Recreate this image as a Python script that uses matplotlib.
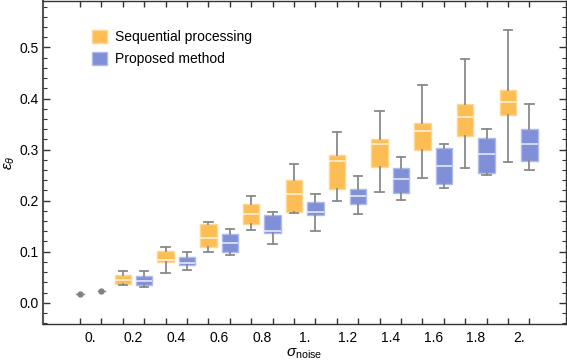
import matplotlib
matplotlib.use("Agg")
import matplotlib.pyplot as plt
from matplotlib.patches import Patch
import numpy as np

plt.rcParams['font.family'] = ['Liberation Sans', 'DejaVu Sans']
plt.rcParams['mathtext.fontset'] = 'custom'
plt.rcParams['mathtext.rm'] = 'Liberation Sans'
plt.rcParams['mathtext.it'] = 'Liberation Sans:italic'

noise = [0.0, 0.2, 0.4, 0.6, 0.8, 1.0, 1.2, 1.4, 1.6, 1.8, 2.0]
tick_labels = ["0.", "0.2", "0.4", "0.6", "0.8", "1.", "1.2", "1.4", "1.6", "1.8", "2."]

seq_lo  = [0.0164, 0.035, 0.0586, 0.0996, 0.1426, 0.176, 0.1986, 0.2176, 0.244, 0.2645, 0.276]
seq_q1  = [0.0164, 0.036, 0.080, 0.109, 0.154, 0.1785, 0.222, 0.2656, 0.300, 0.327, 0.368]
seq_med = [0.0164, 0.044, 0.0847, 0.126, 0.174, 0.2137, 0.277, 0.310, 0.337, 0.3646, 0.394]
seq_q3  = [0.0164, 0.0535, 0.1016, 0.155, 0.193, 0.241, 0.289, 0.320, 0.3516, 0.3887, 0.4174]
seq_hi  = [0.0164, 0.062, 0.109, 0.158, 0.2097, 0.2715, 0.334, 0.376, 0.4266, 0.477, 0.534]

prop_lo  = [0.024, 0.031, 0.0645, 0.093, 0.115, 0.1414, 0.1746, 0.202, 0.2254, 0.251, 0.2605]
prop_q1  = [0.024, 0.034, 0.0736, 0.0996, 0.1375, 0.171, 0.194, 0.2156, 0.232, 0.255, 0.2768]
prop_med = [0.024, 0.042, 0.077, 0.117, 0.1406, 0.178, 0.2098, 0.243, 0.268, 0.2918, 0.3105]
prop_q3  = [0.024, 0.0515, 0.089, 0.1355, 0.1726, 0.197, 0.2234, 0.2637, 0.304, 0.323, 0.341]
prop_hi  = [0.024, 0.062, 0.0996, 0.144, 0.178, 0.213, 0.248, 0.2846, 0.3105, 0.340, 0.3895]

series = [
    ("Sequential processing", -0.05, (seq_lo, seq_q1, seq_med, seq_q3, seq_hi), "#FDBD55", "#FFD690", "#FFF0D6"),
    ("Proposed method", 0.05, (prop_lo, prop_q1, prop_med, prop_q3, prop_hi), "#7F8FD8", "#B0BAEC", "#E4E8FA"),
]

fig = plt.figure(figsize=(5.67, 3.63), dpi=100)
ax = fig.add_axes([43/567, 1-324/363, (566-43)/567, (324-1)/363])

wcol = "#8a8a8a"
box_w = 0.077
all_pos = []
for name, off, (lo, q1, med, q3, hi), fc, ec, mc in series:
    stats, pos, dots = [], [], []
    for i, x in enumerate(noise):
        if q3[i] - q1[i] < 1e-9:
            dots.append((x + off, med[i]))
            continue
        stats.append(dict(whislo=lo[i], q1=q1[i], med=med[i], q3=q3[i], whishi=hi[i], fliers=[]))
        pos.append(x + off)
    all_pos += [x + off for x in noise]
    ax.bxp(stats, positions=pos, widths=box_w, patch_artist=True, showfliers=False,
           boxprops=dict(facecolor=fc, edgecolor=ec, linewidth=1.0),
           medianprops=dict(color=mc, linewidth=1.2),
           whiskerprops=dict(color=wcol, linewidth=1.3),
           capprops=dict(color=wcol, linewidth=1.3), manage_ticks=False, zorder=3)
    for (dx, dy) in dots:
        ax.plot([dx - 0.018, dx + 0.018], [dy, dy], color=wcol, lw=1.0, zorder=3)
        ax.plot(dx, dy, 'o', color="#808080", ms=3.5, zorder=4)

ax.set_xlim(-0.223, 2.221)
ax.set_ylim(-0.0416, 0.591)

ax.set_xticks(noise)
ax.set_xticklabels(tick_labels)
ax.set_xticks(sorted(all_pos), minor=True)
ax.tick_params(axis='x', which='major', length=0, pad=5, labelsize=10)
ax.tick_params(axis='x', which='minor', direction='in', length=4.5, width=1.0, top=True, bottom=True, color='#333333')

ax.set_yticks(np.arange(0, 0.51, 0.1))
ax.set_yticklabels(["0.0", "0.1", "0.2", "0.3", "0.4", "0.5"])
ax.set_yticks(np.arange(-0.04, 0.59, 0.02), minor=True)
ax.tick_params(axis='y', which='major', direction='in', length=5, width=1.0, left=True, right=True, pad=3, labelsize=10, color='#333333')
ax.tick_params(axis='y', which='minor', direction='in', length=3, width=0.8, left=True, right=True, color='#333333')

for s in ax.spines.values():
    s.set_color('#333333')
    s.set_linewidth(1.0)
ax.spines['left'].set_color('#555555')
ax.spines['left'].set_linewidth(1.5)

ax.set_xlabel(r"$\sigma_{\mathrm{noise}}$", fontsize=11, labelpad=1)
ax.set_ylabel(r"$\varepsilon_{\theta}$", fontsize=11)
ax.yaxis.set_label_coords(-0.05, 0.5)

handles = [Patch(facecolor=s[3], edgecolor=s[4], linewidth=1.0, label=s[0]) for s in series]
ax.legend(handles=handles, loc='upper left', bbox_to_anchor=(0.069, 0.95), frameon=False,
          fontsize=10, handlelength=1.1, handleheight=1.1, handletextpad=0.6, labelspacing=0.55)

fig.savefig("out.png", dpi=100)
